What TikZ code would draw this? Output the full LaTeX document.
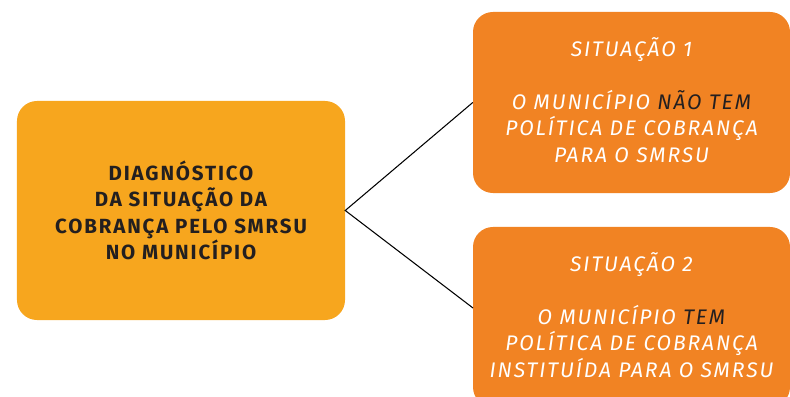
\documentclass[tikz,border=0pt]{standalone}
\usepackage{fontspec}
\setmainfont{Fira Sans}
\newfontfamily\widefont{Fira Sans}[LetterSpace=9]
\usepackage{tikz}

\definecolor{diagyellow}{RGB}{247,166,30}
\definecolor{sitorange}{RGB}{241,131,35}
\definecolor{darktext}{RGB}{35,31,32}

\tikzset{
  diagbox/.style={fill=diagyellow, rounded corners=0.6cm, minimum width=9.84cm, minimum height=6.57cm,
    align=center, font=\widefont\bfseries\fontsize{17.5}{22.6}\selectfont, text=darktext},
  sitbox/.style={fill=sitorange, rounded corners=0.6cm, minimum width=9.51cm, inner sep=0pt},
  sittext/.style={text=white, align=center, font=\widefont\itshape\fontsize{18}{22.6}\selectfont},
  link/.style={draw=black, line width=0.9pt}
}

\begin{document}
\begin{tikzpicture}[x=0.03cm, y=-0.03cm]
        \useasboundingbox (0,0) rectangle (790,397);
        \clip (0,0) rectangle (790,397);

        \node[diagbox] (diag) at (181,210.5)
          {DIAGNÓSTICO\\DA SITUAÇÃO DA\\COBRANÇA PELO SMRSU\\NO MUNICÍPIO};

        \node[sitbox, minimum height=5.43cm] (s1) at (631.5,102.5) {};
        \node[sittext] (s1text) at (631.5,100)
          {SITUAÇÃO 1\\[22.6pt]
           O MUNICÍPIO \textcolor{darktext}{NÃO TEM}\\POLÍTICA DE COBRANÇA\\PARA O SMRSU};

        \node[sitbox, minimum height=5.4cm] (s2) at (631.5,317) {};
        \node[sittext] (s2text) at (631.5,315)
          {SITUAÇÃO 2\\[22.6pt]
           O MUNICÍPIO \textcolor{darktext}{TEM}\\POLÍTICA DE COBRANÇA\\INSTITUÍDA PARA O SMRSU};

        \coordinate (s2in) at (473,308);
        \draw[link] (s1.west) -- (diag.east) -- (s2in);
      \end{tikzpicture}
\end{document}
